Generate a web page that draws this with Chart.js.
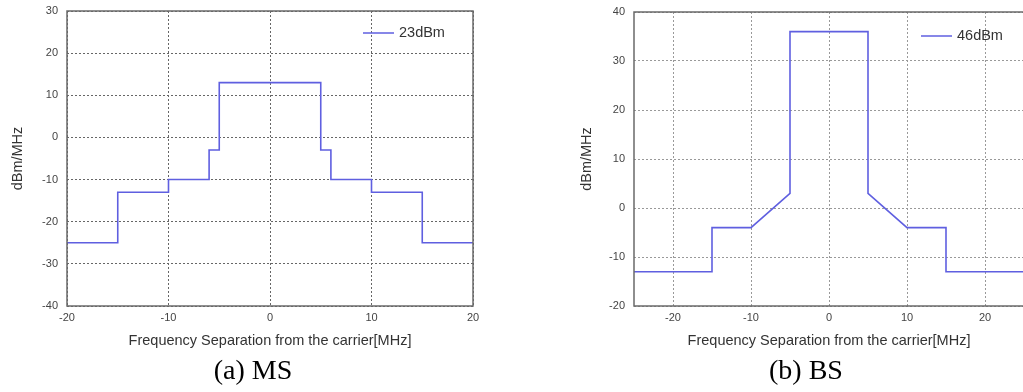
<!DOCTYPE html>
<html>
<head>
<meta charset="utf-8">
<script src="https://cdn.jsdelivr.net/npm/chart.js@4.4.1/dist/chart.umd.min.js"></script>
<style>
  html, body { margin: 0; padding: 0; background: #fff; overflow: hidden; }
  body { width: 1023px; height: 392px; position: relative; }
  .box { position: absolute; top: 0; height: 360px; }
  .caption { position: absolute; top: 354px; font-family: "Liberation Serif", "Times New Roman", serif; font-size: 28px; color: #000; transform: translateX(-50%); white-space: nowrap; }
</style>
</head>
<body>
<div class="box" style="left:0; width:490px;"><canvas id="ms-chart"></canvas></div>
<div class="box" style="left:520px; width:520px;"><canvas id="bs-chart"></canvas></div>
<div class="caption" style="left:253px;">(a) MS</div>
<div class="caption" style="left:806px;">(b) BS</div>
<script>
// MS spectrum emission mask (23 dBm)
const msFreq  = [-20, -15, -15, -10, -10, -6, -6, -5, -5, 5, 5, 6, 6, 10, 10, 15, 15, 20];
const msLevel = [-25, -25, -13, -13, -10, -10, -3, -3, 13, 13, -3, -3, -10, -10, -13, -13, -25, -25];
const msLabel = '23dBm';
const msYTicks = [-40, -30, -20, -10, 0, 10, 20, 30];
const msXTicks = [-20, -10, 0, 10, 20];

// BS spectrum emission mask (46 dBm)
const bsFreq  = [-25, -15, -15, -10, -5, -5, 5, 5, 10, 15, 15, 25];
const bsLevel = [-13, -13, -4, -4, 3, 36, 36, 3, -4, -4, -13, -13];
const bsLabel = '46dBm';
const bsYTicks = [-20, -10, 0, 10, 20, 30, 40];
const bsXTicks = [-20, -10, 0, 10, 20];

const xTitle = 'Frequency Separation from the carrier[MHz]';
const yTitle = 'dBm/MHz';
const lineColor = '#5f5fe0';
const fontFamily = '"Liberation Sans", Arial, sans-serif';

// frame around plot area + legend inside it
const frameLegend = {
  id: 'frameLegend',
  afterDraw(chart, args, opts) {
    const { ctx, chartArea: a } = chart;
    ctx.save();
    ctx.strokeStyle = '#6a6a6a';
    ctx.lineWidth = 1.5;
    ctx.strokeRect(a.left, a.top, a.right - a.left, a.bottom - a.top);
    const ds = chart.data.datasets[0];
    const x0 = a.right - opts.offset;
    const y0 = a.top + opts.dy;
    ctx.strokeStyle = ds.borderColor;
    ctx.lineWidth = 1.5;
    ctx.beginPath();
    ctx.moveTo(x0, y0);
    ctx.lineTo(x0 + 31, y0);
    ctx.stroke();
    ctx.fillStyle = '#333';
    ctx.font = '14.5px ' + fontFamily;
    ctx.textBaseline = 'middle';
    ctx.fillText(ds.label, x0 + 36, y0);
    ctx.restore();
  }
};

function makeChart(id, freq, level, label, xTicks, yTicks, xMin, xMax, yMin, yMax, leftPad, yWidth, gridColor, legendOpts, rightPad, topPad) {
  const points = freq.map((f, i) => ({ x: f, y: level[i] }));
  new Chart(document.getElementById(id), {
    type: 'scatter',
    data: {
      datasets: [{
        label: label,
        data: points,
        showLine: true,
        borderColor: lineColor,
        borderWidth: 1.6,
        pointRadius: 0,
        tension: 0
      }]
    },
    options: {
      responsive: true,
      maintainAspectRatio: false,
      animation: false,
      layout: { padding: { top: topPad, right: rightPad, left: leftPad, bottom: 6 } },
      plugins: {
        legend: { display: false },
        tooltip: { enabled: false },
        frameLegend: legendOpts
      },
      scales: {
        x: {
          type: 'linear', min: xMin, max: xMax,
          afterBuildTicks(s) { s.ticks = xTicks.map(v => ({ value: v })); },
          afterFit(s) { s.height = 48; s.paddingLeft = 0; s.paddingRight = 0; },
          grid: { color: gridColor, drawTicks: false, lineWidth: 1 },
          border: { display: false, dash: [2, 2] },
          ticks: { color: '#444', font: { size: 11, family: fontFamily }, padding: 5, maxRotation: 0 },
          title: { display: true, text: xTitle, color: '#333', font: { size: 14.5, family: fontFamily }, padding: { top: 4 } }
        },
        y: {
          type: 'linear', min: yMin, max: yMax,
          afterBuildTicks(s) { s.ticks = yTicks.map(v => ({ value: v })); },
          afterFit(s) { s.width = yWidth; s.paddingTop = 0; s.paddingBottom = 0; },
          grid: { color: gridColor, drawTicks: false, lineWidth: 1 },
          border: { display: false, dash: [2, 2] },
          ticks: { color: '#444', font: { size: 11, family: fontFamily }, padding: 9 },
          title: { display: true, text: yTitle, color: '#333', font: { size: 14.5, family: fontFamily }, padding: 0 }
        }
      }
    },
    plugins: [frameLegend]
  });
}

makeChart('ms-chart', msFreq, msLevel, msLabel, msXTicks, msYTicks, -20, 20, -40, 30, 9, 58, '#666', { offset: 110, dy: 22 }, 17, 11);
makeChart('bs-chart', bsFreq, bsLevel, bsLabel, bsXTicks, bsYTicks, -25, 25, -20, 40, 58, 56, '#999', { offset: 103, dy: 24 }, 16, 12);
</script>
</body>
</html>
